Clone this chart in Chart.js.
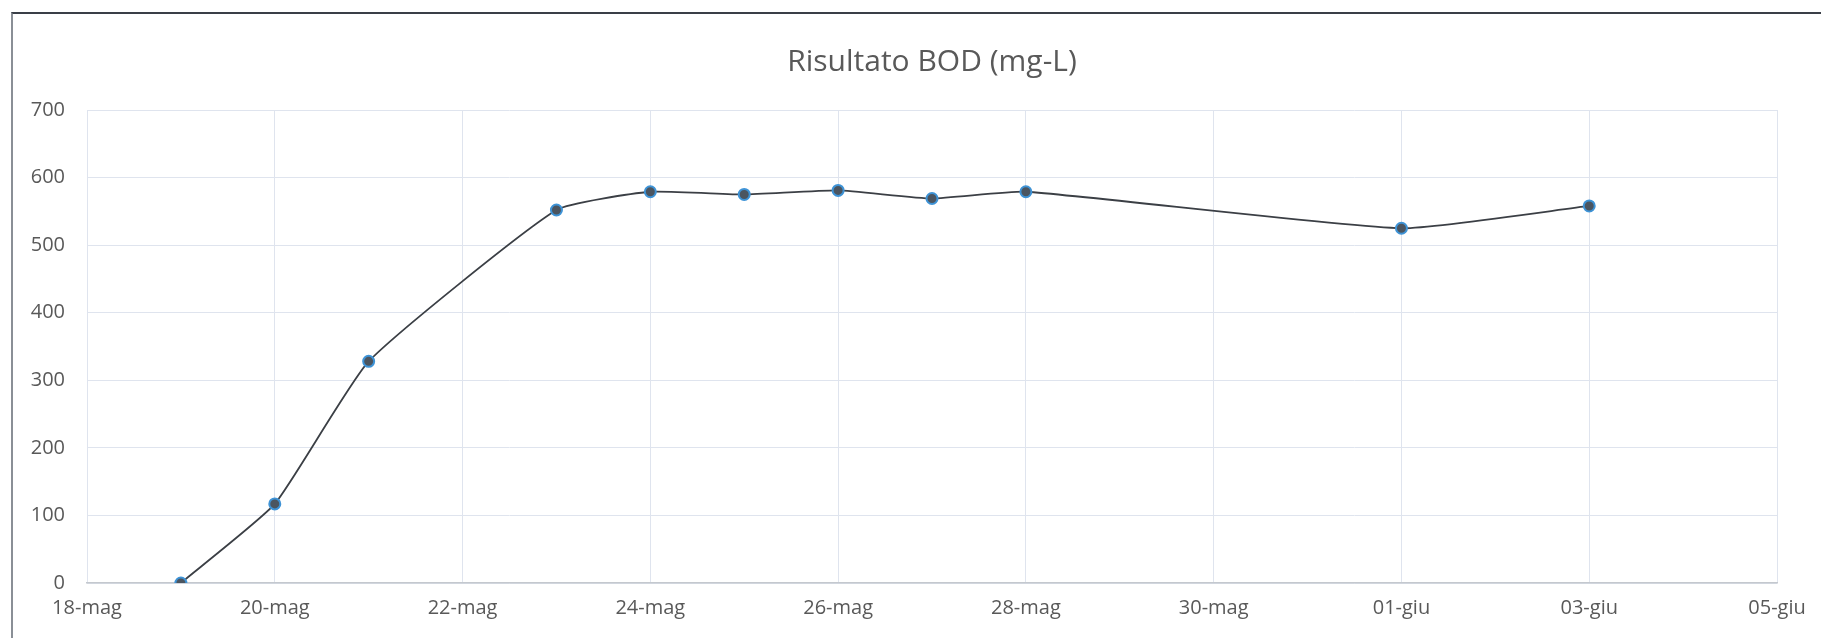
<!DOCTYPE html>
<html>
<head>
<meta charset="utf-8">
<script src="https://cdn.jsdelivr.net/npm/chart.js@4"></script>
<style>
	html, body { margin: 0; padding: 0; background: #fff; overflow: hidden; }
	#wrap { position: relative; width: 1821px; height: 638px; }
	#frame { position: absolute; left: 11px; top: 12px; width: 1900px; height: 700px;
		border-top: 2px solid #3a3f47; border-left: 2px solid #8a8f96; }
	canvas { position: absolute; left: 0; top: 0; }
</style>
</head>
<body>
<div id="wrap">
	<div id="frame"></div>
	<canvas id="chart" width="1821" height="638"></canvas>
</div>
<script>
// giorni dal 18-mag
const giorni = [1, 2, 3, 5, 6, 7, 8, 9, 10, 14, 16]
const bod = [0, 117, 328, 552, 579, 575, 581, 569, 579, 525, 558]
const tickLabels = ['18-mag', '20-mag', '22-mag', '24-mag', '26-mag', '28-mag', '30-mag', '01-giu', '03-giu', '05-giu']

const testo = '#595959'
const griglia = '#dfe4ee'

new Chart(document.getElementById('chart'), {
	type: 'line',
	data: {
		datasets: [
			{
				label: 'BOD',
				data: giorni.map((g, i) => ({ x: g, y: bod[i] })),
				borderColor: '#3b3f45',
				borderWidth: 1.8,
				tension: 0.15,
				pointRadius: 5.5,
				pointBorderWidth: 2,
				pointBackgroundColor: '#4b5560',
				pointBorderColor: '#3e93d6',
			},
		],
	},
	options: {
		responsive: false,
		animation: false,
		layout: { padding: { left: 0, right: 44, top: 0, bottom: 0 } },
		plugins: {
			legend: { display: false },
			tooltip: { enabled: false },
			title: {
				display: true,
				fullSize: false, // centrato sull'area del grafico
				text: 'Risultato BOD (mg-L)',
				color: testo,
				font: { family: 'Open Sans', size: 30, weight: 'normal' },
				padding: { top: 44, bottom: 30 },
			},
		},
		scales: {
			x: {
				type: 'linear',
				min: 0,
				max: 18,
				ticks: {
					stepSize: 2,
					color: testo,
					padding: 13,
					maxRotation: 0,
					font: { family: 'Open Sans', size: 20 },
					callback: v => tickLabels[v / 2],
				},
				grid: { color: griglia, lineWidth: 1, drawTicks: false },
				border: { color: '#c4c8ce', width: 1.5 },
				afterFit: s => { s.height = 55 },
			},
			y: {
				min: 0,
				max: 700,
				ticks: {
					stepSize: 100,
					color: testo,
					padding: 22,
					font: { family: 'Open Sans', size: 20 },
				},
				grid: { color: griglia, lineWidth: 1, drawTicks: false },
				border: { display: false },
				afterFit: s => { s.width = 87 },
			},
		},
	},
})
</script>
</body>
</html>
